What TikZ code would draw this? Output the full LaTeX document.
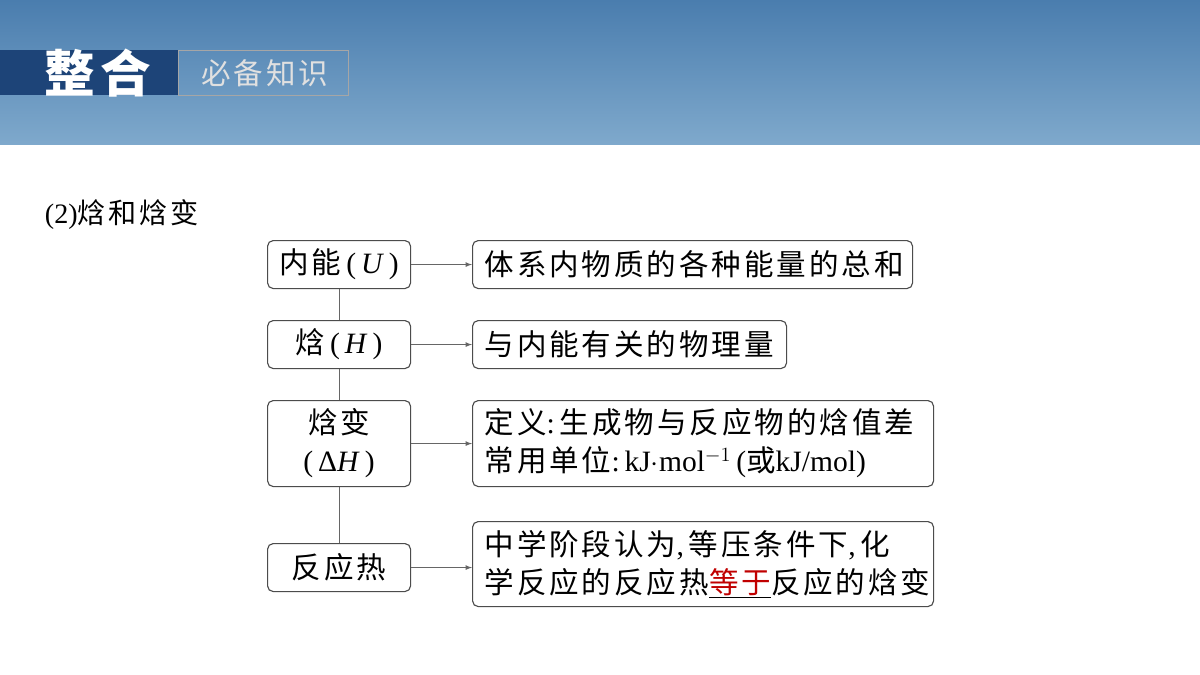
\documentclass[tikz,border=0pt]{standalone}
\usepackage{fontspec}
\setmainfont{Liberation Serif}
\newfontfamily\cjk[LetterSpace=10]{Noto Sans CJK SC}
\newfontfamily\lat{Liberation Serif}
\usetikzlibrary{positioning}
\definecolor{bandtop}{HTML}{4A7DAE}
\definecolor{bandbot}{HTML}{7FA9CC}
\definecolor{darkblk}{HTML}{1D4478}
\definecolor{keyred}{HTML}{C00000}
\tikzset{
  box/.style={draw=black!70, rounded corners=4pt, line width=0.8pt, anchor=north west, inner xsep=0pt, inner ysep=0pt, font=\cjk\fontsize{21}{27}\selectfont},
  txt/.style={box, align=left, inner xsep=12*0.025cm},
  arr/.style={-latex, draw=black!60, line width=0.6pt},
}
\begin{document}
\begin{tikzpicture}[x=0.025cm, y=-0.025cm]
\useasboundingbox (0,0) rectangle (1200,675);
\fill[white] (0,0) rectangle (1200,675);
\shade[top color=bandtop, bottom color=bandbot] (0,0) rectangle (1200,145);
%
\fill[darkblk] (0,50) rectangle (178,95);
\draw[black!35, line width=0.6pt] (178,50) rectangle (348,95);
\node[text=white, font=\cjk\bfseries\fontsize{36}{40}\selectfont] (title) at (98,73) {整合};
\node[text=black!12, font=\cjk\fontsize{21}{24}\selectfont] (subtitle) at (265,73) {必备知识};
\node[anchor=west, font=\cjk\fontsize{20}{24}\selectfont] (heading) at (40,215) {{\lat (2)}焓和焓变};
%
\node[box, minimum width=143*0.025cm, minimum height=48*0.025cm] (u) at (267,240) {内能{\lat\,(\,\itshape U\/\upshape\,)}};
\node[box, minimum width=143*0.025cm, minimum height=48*0.025cm] (h) at (267,320) {焓{\lat\,(\,\itshape H\/\upshape\,)}};
\node[box, minimum width=143*0.025cm, minimum height=86*0.025cm, align=center] (dh) at (267,400) {焓变\\{\lat (\,Δ\itshape H\/\upshape\,)}};
\node[box, minimum width=143*0.025cm, minimum height=48*0.025cm] (q) at (267,543) {反应热};
%
\node[txt, text width=416*0.025cm, minimum height=48*0.025cm] (ud) at (472,240) {体系内物质的各种能量的总和};
\node[txt, text width=290*0.025cm, minimum height=48*0.025cm] (hd) at (472,320) {与内能有关的物理量};
\node[txt, text width=437*0.025cm, minimum height=86*0.025cm] (dhd) at (472,400) {定义{\lat :\,}生成物与反应物的焓值差\\常用单位{\lat :\,kJ$\cdot$mol$^{-1}$\,(}或{\lat kJ/mol)}};
\node[txt, text width=437*0.025cm, minimum height=85*0.025cm] (qd) at (472,521) {中学阶段认为{\lat ,\,}等压条件下{\lat ,\,}化\\学反应的反应热\underline{\textcolor{keyred}{等于}}反应的焓变};
%
\draw[black!60, line width=0.6pt] (u.south) -- (h.north) (h.south) -- (dh.north) (dh.south) -- (q.north);
\draw[arr] (u.east) -- (ud.west);
\draw[arr] (h.east) -- (hd.west);
\draw[arr] (dh.east) -- (dhd.west);
\draw[arr] (q.east) -- (q.east -| qd.west);
\end{tikzpicture}
\end{document}
